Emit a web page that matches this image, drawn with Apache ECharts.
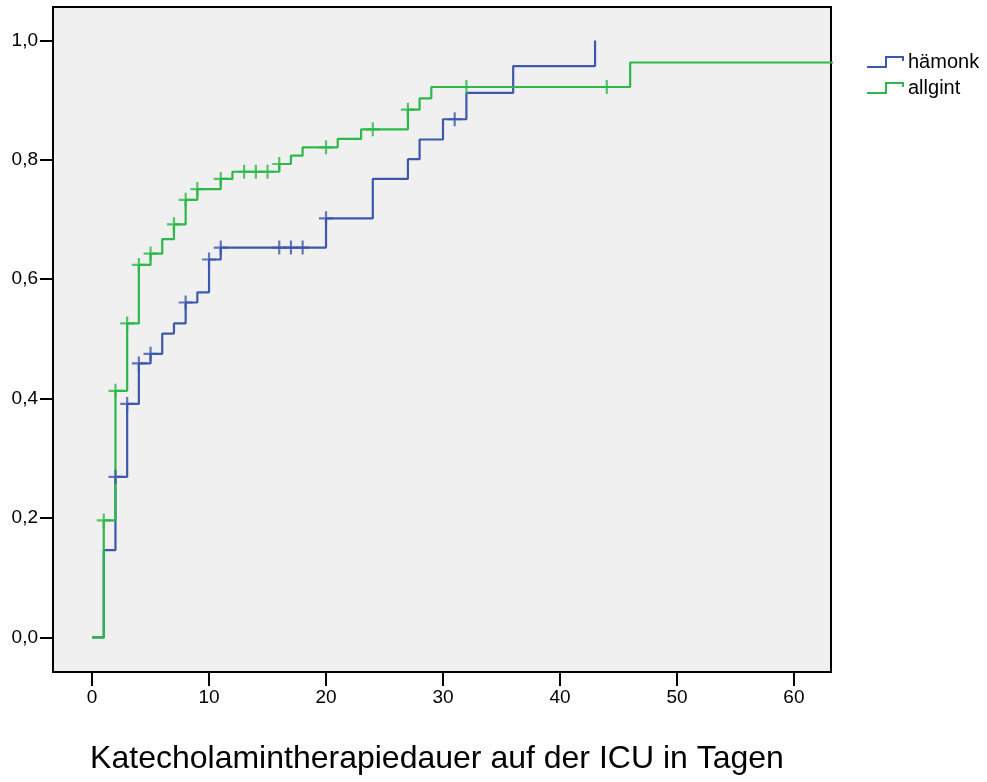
<!DOCTYPE html>
<html>
<head>
<meta charset="utf-8">
<script src="https://cdn.jsdelivr.net/npm/echarts@6/dist/echarts.min.js"></script>
<style>html,body{margin:0;padding:0;background:#fff}#c{width:987px;height:782px}</style>
</head>
<body>
<div id="c"></div>
<script>
// ---- data ----
const xTicks = [0, 10, 20, 30, 40, 50, 60];
const yTicks = [0, 0.2, 0.4, 0.6, 0.8, 1.0];
const seriesNames = ['hämonk', 'allgint'];
const xTitle = 'Katecholamintherapiedauer auf der ICU in Tagen';

// hämonk: step times and cumulative values
const haemonkTimes  = [0, 1, 2, 3, 4, 5, 6, 7, 8, 9, 10, 11, 20, 24, 27, 28, 30, 32, 36, 43];
const haemonkValues = [0, 0.146, 0.269, 0.391, 0.459, 0.475, 0.509, 0.526, 0.561, 0.578, 0.633, 0.653, 0.702, 0.768, 0.801, 0.834, 0.868, 0.912, 0.957, 1.0];
const haemonkCensorTimes  = [2, 3, 4, 5, 8, 10, 11, 16, 17, 18, 20, 31];
const haemonkCensorValues = [0.269, 0.391, 0.459, 0.475, 0.561, 0.633, 0.653, 0.653, 0.653, 0.653, 0.702, 0.868];

// allgint
const allgintTimes  = [0, 1, 2, 3, 4, 5, 6, 7, 8, 9, 11, 12, 16, 17, 18, 21, 23, 27, 28, 29, 46, 64];
const allgintValues = [0, 0.196, 0.413, 0.526, 0.624, 0.643, 0.667, 0.692, 0.733, 0.751, 0.768, 0.780, 0.793, 0.807, 0.821, 0.835, 0.851, 0.884, 0.903, 0.922, 0.963, 0.963];
const allgintCensorTimes  = [1, 2, 3, 4, 5, 7, 8, 9, 11, 13, 14, 15, 16, 20, 24, 27, 32, 44];
const allgintCensorValues = [0.196, 0.413, 0.526, 0.624, 0.643, 0.692, 0.733, 0.751, 0.768, 0.780, 0.780, 0.780, 0.793, 0.821, 0.851, 0.884, 0.922, 0.922];

// ---- styling ----
const colors = ['#3e58ac', '#2eb84a'];
const FONT = 'Liberation Sans, Arial, sans-serif';
const zip = (a, b) => a.map((v, i) => [v, b[i]]);
const plus = 'path://M0,7L14,7M7,0L7,14';
const legendIcon = 'path://M0,10L19,10L19,0L36,0L36,4';

const chart = echarts.init(document.getElementById('c'), null, {renderer: 'canvas'});
chart.setOption({
  animation: false,
  backgroundColor: '#ffffff',
  textStyle: {fontFamily: FONT},
  grid: {
    left: 53, right: 156, top: 7, bottom: 110,
    show: true, backgroundColor: '#f0f0f0', borderColor: '#000', borderWidth: 2
  },
  legend: {
    orient: 'vertical', left: 866, top: 52, padding: 0,
    itemWidth: 36, itemHeight: 10, itemGap: 6,
    textStyle: {fontSize: 20, color: '#000', fontFamily: FONT, lineHeight: 20},
    data: seriesNames.map((n, i) => ({
      name: n, icon: legendIcon,
      itemStyle: {color: 'transparent', borderColor: colors[i], borderWidth: 2}
    })),
    selectedMode: false
  },
  xAxis: {
    type: 'value', min: -3.34, max: 63.17,
    axisLine: {show: false, onZero: false},
    splitLine: {show: false},
    axisTick: {show: true, customValues: xTicks, length: 14, lineStyle: {color: '#000', width: 2}},
    axisLabel: {customValues: xTicks, margin: 16, fontSize: 19, color: '#000', fontFamily: FONT},
    name: xTitle, nameLocation: 'middle', nameGap: 71,
    nameTextStyle: {fontSize: 32, color: '#000', fontFamily: FONT, padding: [0, 10, 0, 0]}
  },
  yAxis: {
    type: 'value', min: -0.058, max: 1.056,
    axisLine: {show: false, onZero: false},
    splitLine: {show: false},
    axisTick: {show: true, customValues: yTicks, length: 13, lineStyle: {color: '#000', width: 2}},
    axisLabel: {customValues: yTicks, margin: 15, fontSize: 19, color: '#000', fontFamily: FONT,
      formatter: v => v.toFixed(1).replace('.', ',')}
  },
  series: [
    {name: seriesNames[0], type: 'line', step: 'end', showSymbol: false, symbol: 'none',
     data: zip(haemonkTimes, haemonkValues), lineStyle: {color: colors[0], width: 2.2},
     itemStyle: {color: colors[0]}, emphasis: {disabled: true}, z: 2},
    {name: seriesNames[1], type: 'line', step: 'end', showSymbol: false, symbol: 'none',
     data: zip(allgintTimes, allgintValues), lineStyle: {color: colors[1], width: 2.2},
     itemStyle: {color: colors[1]}, emphasis: {disabled: true}, z: 3},
    {name: seriesNames[0] + ' zensiert', type: 'scatter', symbol: plus, symbolSize: 14,
     data: zip(haemonkCensorTimes, haemonkCensorValues),
     itemStyle: {color: 'transparent', borderColor: colors[0], borderWidth: 2.2}, emphasis: {disabled: true}, z: 4},
    {name: seriesNames[1] + ' zensiert', type: 'scatter', symbol: plus, symbolSize: 14,
     data: zip(allgintCensorTimes, allgintCensorValues),
     itemStyle: {color: 'transparent', borderColor: colors[1], borderWidth: 2.2}, emphasis: {disabled: true}, z: 5}
  ]
});
</script>
</body>
</html>
